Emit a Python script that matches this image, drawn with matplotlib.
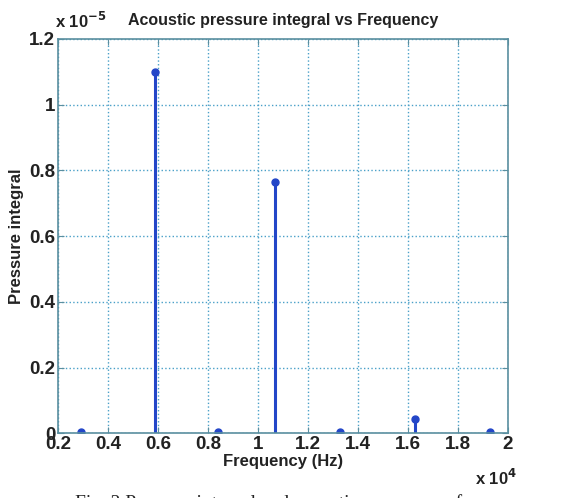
import numpy as np
import matplotlib.pyplot as plt

# frequency in units of 1e4 Hz, pressure integral in units of 1e-5
freq = [0.29, 0.59, 0.84, 1.07, 1.33, 1.63, 1.93]
pressure = [0.003, 1.10, 0.003, 0.765, 0.003, 0.043, 0.003]
xticks = [0.2, 0.4, 0.6, 0.8, 1, 1.2, 1.4, 1.6, 1.8, 2]
yticks = [0, 0.2, 0.4, 0.6, 0.8, 1, 1.2]

plt.rcParams['font.family'] = ['Liberation Sans', 'DejaVu Sans']

fig = plt.figure(figsize=(5.75, 4.98), dpi=100)
ax = fig.add_axes([0.101, 0.130, 0.782, 0.792])

blue = '#2346c8'
markerline, stemlines, baseline = ax.stem(freq, pressure, basefmt=' ')
plt.setp(stemlines, color=blue, linewidth=2.2)
plt.setp(markerline, color=blue, marker='o', markersize=5)

ax.set_xlim(0.2, 2)
ax.set_ylim(0, 1.2)
ax.set_xticks(xticks)
ax.set_xticklabels(['0.2', '0.4', '0.6', '0.8', '1', '1.2', '1.4', '1.6', '1.8', '2'])
ax.set_yticks(yticks)
ax.set_yticklabels(['0', '0.2', '0.4', '0.6', '0.8', '1', '1.2'])
ax.tick_params(direction='in', length=4, colors='#5a8fa0', labelcolor='#222222',
               labelsize=13.5, top=True, right=True, pad=2)
for lbl in ax.get_xticklabels() + ax.get_yticklabels():
    lbl.set_fontweight('bold')
for sp in ax.spines.values():
    sp.set_color('#5a8fa0')
    sp.set_linewidth(1.2)
ax.grid(True, linestyle=':', color='#4aa0c8', linewidth=1.0)
ax.set_axisbelow(True)

ax.set_title('Acoustic pressure integral vs Frequency', fontsize=11.5, fontweight='bold',
             color='#222222', pad=10)
ax.set_xlabel('Frequency (Hz)', fontsize=12, fontweight='bold', color='#222222', labelpad=1)
ax.set_ylabel('Pressure integral', fontsize=12, fontweight='bold', color='#222222', labelpad=4)

fig.text(0.095, 0.943, r'x 10$^{\mathbf{-5}}$', fontsize=12, fontweight='bold', color='#222222')
fig.text(0.862, 0.026, r'x 10$^{\mathbf{4}}$', fontsize=12, fontweight='bold',
         color='#222222', ha='center')
fig.text(0.53, -0.028, 'Fig. 3 Pressure integral and acoustic pressure vs frequency', fontsize=14,
         family=['Liberation Serif', 'DejaVu Serif'], ha='center', va='bottom', color='#222222')

fig.savefig('out.png', dpi=100)
